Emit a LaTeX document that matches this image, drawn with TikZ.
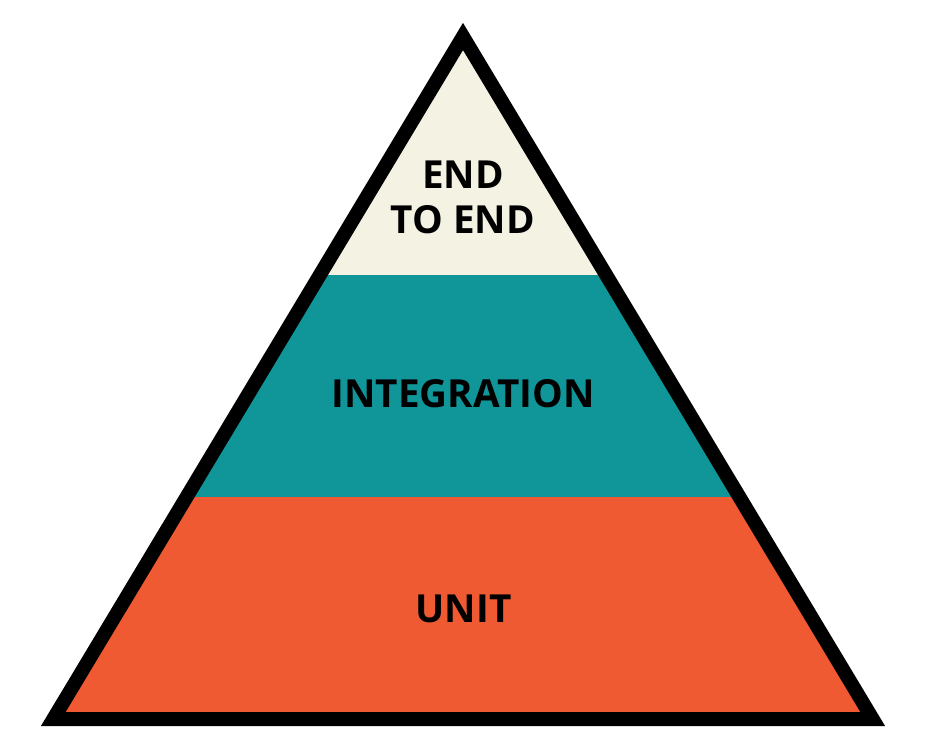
\documentclass[tikz,border=0pt]{standalone}
\usepackage{fontspec}
\setmainfont{Open Sans}
\definecolor{cream}{RGB}{244,242,226}
\definecolor{tealband}{RGB}{16,150,152}
\definecolor{orangeband}{RGB}{240,90,50}
\tikzset{
  label/.style={font=\bfseries\fontsize{22}{25.5}\selectfont, text=black, inner sep=0pt},
}
\begin{document}
\begin{tikzpicture}[x=0.02cm, y=-0.02cm]
\useasboundingbox (0,0) rectangle (926,750);

\coordinate (apex) at (463,36.5);
\coordinate (left) at (53.3,719);
\coordinate (right) at (872.7,719);

% bands
\begin{scope}
\clip (apex) -- (left) -- (right) -- cycle;
\fill[cream] (0,0) rectangle (926,275);
\fill[tealband] (0,275) rectangle (926,497);
\fill[orangeband] (0,497) rectangle (926,750);
\end{scope}

% outline
\draw[line width=0.28cm, line join=miter] (apex) -- (left) -- (right) -- cycle;

\node[label, align=center] (top) at (463,197) {END\\TO END};
\node[label, anchor=base] (mid) at (463,407) {INTEGRATION};
\node[label, anchor=base] (bottom) at (463.5,622) {UNIT};
\end{tikzpicture}
\end{document}
